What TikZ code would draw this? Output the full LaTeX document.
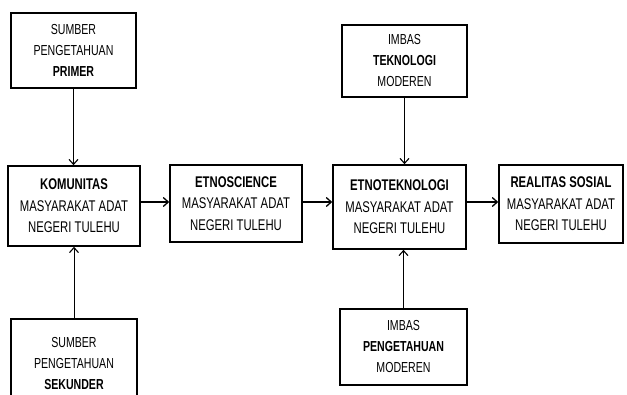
\documentclass[tikz,border=0pt]{standalone}
\usepackage{fontspec}
\newfontfamily\cond[FakeStretch=0.73]{Liberation Sans}
\usetikzlibrary{arrows.meta}
\begin{document}
\begin{tikzpicture}[x=1pt,y=-1pt,
  mainbox/.style={draw,line width=1.6pt,align=center,inner sep=0pt,
    font=\cond\fontsize{15.5}{21.5}\selectfont},
  sidebox/.style={draw,line width=1.1pt,align=center,inner sep=0pt,
    font=\cond\fontsize{14.5}{21}\selectfont},
  harrow/.style={line width=1.8pt,-{Straight Barb[length=5pt,width=9pt,line width=1.3pt]}},
  varrow/.style={line width=0.9pt,-{Straight Barb[length=5pt,width=9pt,line width=1.1pt]}}]
\useasboundingbox (0,0) rectangle (627,394);
\clip (0,0) rectangle (627,394);
\fill[white] (0,0) rectangle (627,394);
\node[sidebox,minimum width=125pt,minimum height=75pt] (prim) at (73.5,50.5)
  {SUMBER\\PENGETAHUAN\\\textbf{PRIMER}};
\node[mainbox,minimum width=132pt,minimum height=80pt] (kom) at (74,206)
  {\textbf{KOMUNITAS}\\MASYARAKAT ADAT\\NEGERI TULEHU};
\node[mainbox,minimum width=132pt,minimum height=77pt] (eth) at (236,203.5)
  {\textbf{ETNOSCIENCE}\\MASYARAKAT ADAT\\NEGERI TULEHU};
\node[mainbox,minimum width=133pt,minimum height=84pt] (tek) at (399.5,207)
  {\textbf{ETNOTEKNOLOGI}\\MASYARAKAT ADAT\\NEGERI TULEHU};
\node[mainbox,minimum width=124pt,minimum height=78pt] (real) at (561,204)
  {\textbf{REALITAS SOSIAL}\\MASYARAKAT ADAT\\NEGERI TULEHU};
\node[sidebox,minimum width=125pt,minimum height=72pt] (imt) at (404.5,61)
  {IMBAS\\\textbf{TEKNOLOGI}\\MODEREN};
\node[sidebox,minimum width=126pt,minimum height=90pt] (sek) at (74,364)
  {SUMBER\\PENGETAHUAN\\\textbf{SEKUNDER}};
\node[sidebox,minimum width=127pt,minimum height=76pt] (imp) at (403.5,347)
  {IMBAS\\\textbf{PENGETAHUAN}\\MODEREN};
\coordinate (h) at (0,202);
\draw[harrow] (kom.east |- h) -- (eth.west |- h);
\draw[harrow] (eth.east |- h) -- (tek.west |- h);
\draw[harrow] (tek.east |- h) -- (real.west |- h);
\draw[varrow] (prim.south) -- (prim.south |- kom.north);
\draw[varrow] (sek.north) -- (sek.north |- kom.south);
\draw[varrow] (imt.south) -- (imt.south |- tek.north);
\draw[varrow] (imp.north) -- (imp.north |- tek.south);
\end{tikzpicture}
\end{document}
